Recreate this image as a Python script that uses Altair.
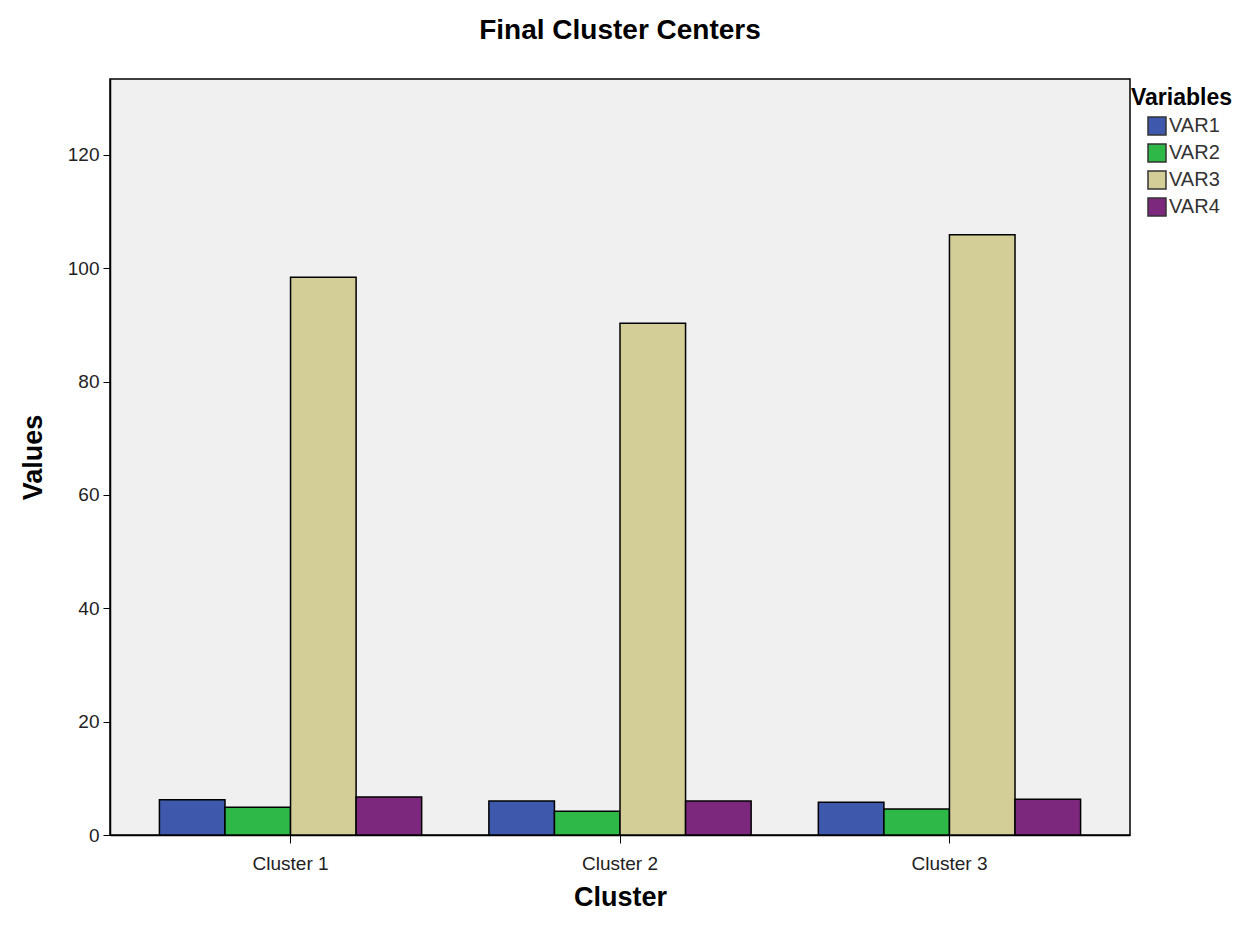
import altair as alt
import pandas as pd

clusters = ["Cluster 1", "Cluster 2", "Cluster 3"]
variables = ["VAR1", "VAR2", "VAR3", "VAR4"]
var1 = [6.2, 6.0, 5.8]
var2 = [4.9, 4.2, 4.6]
var3 = [98.4, 90.3, 105.9]
var4 = [6.7, 6.0, 6.3]
colors = ["#3E58AC", "#2EB848", "#D3CE97", "#7C287D"]
y_ticks = [0, 20, 40, 60, 80, 100, 120]

rows = []
for i, c in enumerate(clusters):
    for v, series in zip(variables, [var1, var2, var3, var4]):
        rows.append({"Cluster": c, "Variable": v, "Value": series[i]})
df = pd.DataFrame(rows)

FONT = "Liberation Sans"

chart = alt.Chart(df).mark_bar(stroke="black", strokeWidth=1.5).encode(
    x=alt.X("Cluster:N", sort=clusters,
            scale=alt.Scale(paddingInner=0.204, paddingOuter=0.15),
            axis=alt.Axis(title="Cluster", labelAngle=0, labelFontSize=19,
                          labelColor="#222222", titleFontSize=27, titleFontWeight="bold",
                          titlePadding=11, tickSize=8, tickColor="black", domainColor="black",
                          domainWidth=1.5, labelPadding=11)),
    xOffset=alt.XOffset("Variable:N", sort=variables,
                        scale=alt.Scale(paddingInner=0, paddingOuter=0)),
    y=alt.Y("Value:Q", scale=alt.Scale(domain=[0, 133.4], nice=False),
            axis=alt.Axis(title="Values", values=y_ticks, grid=False, labelFontSize=19,
                          labelColor="#222222", titleFontSize=27, titleFontWeight="bold",
                          titlePadding=20, tickSize=7, tickColor="black", domainColor="black",
                          domainWidth=1.5, labelPadding=4)),
    color=alt.Color("Variable:N", sort=variables,
                    scale=alt.Scale(domain=variables, range=colors),
                    legend=alt.Legend(title="Variables", orient="none", legendX=1021, legendY=8,
                                      titleFontSize=23, titleFontWeight="bold", titleColor="black",
                                      labelFontSize=20, labelColor="#333333",
                                      symbolType="square", symbolSize=324,
                                      symbolStrokeColor="#333333", symbolStrokeWidth=1.5,
                                      symbolOpacity=1, rowPadding=3, labelOffset=2,
                                      symbolOffset=16, titlePadding=6)),
).properties(
    width=1020,
    height=756,
    title=alt.TitleParams("Final Cluster Centers", fontSize=28, fontWeight="bold",
                          font=FONT, color="black", anchor="middle", offset=34),
    autosize=alt.AutoSizeParams(type="none"),
    padding={"left": 102, "top": 71, "right": 117, "bottom": 78},
).configure(
    font=FONT, background="white"
).configure_view(
    fill="#F0F0F0", stroke="black", strokeWidth=1.5
)

chart.save("out.html", embed_options={"renderer": "svg", "actions": False})
